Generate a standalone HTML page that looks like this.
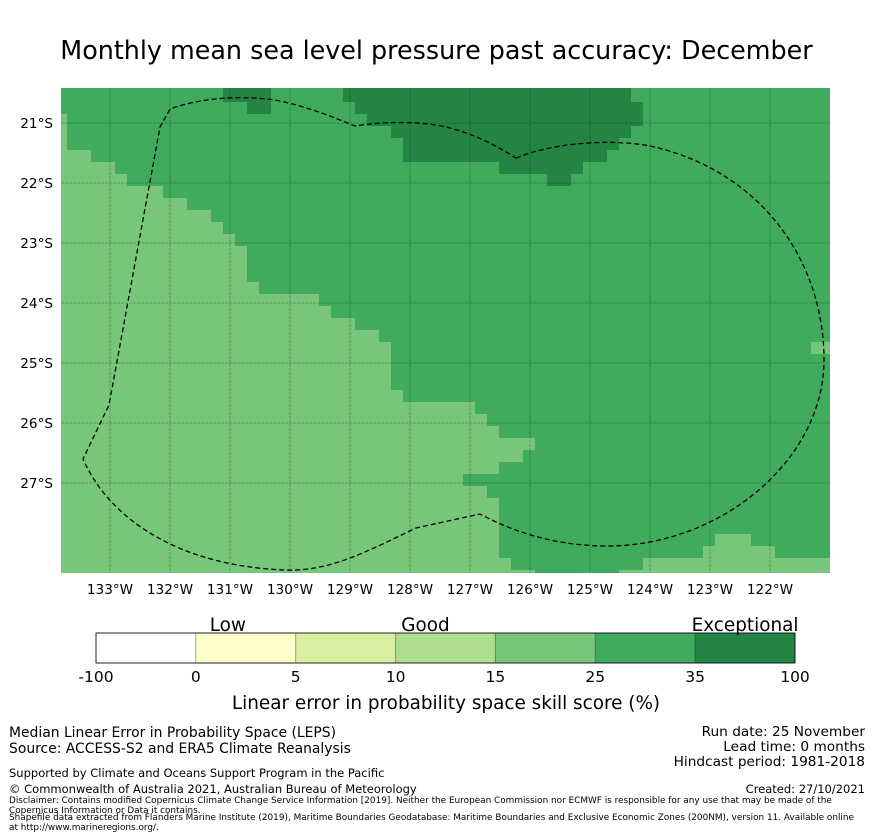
<!DOCTYPE html>
<html><head><meta charset="utf-8"><style>
body{margin:0;background:#fff;width:873px;height:839px;overflow:hidden;font-family:"DejaVu Sans","Liberation Sans",sans-serif;}
.t{position:absolute;white-space:nowrap;color:#000;}
</style></head><body>
<div style="position:relative;width:873px;height:839px">
<div class="t" style="left:0;width:873px;text-align:center;top:35px;font-size:25.4px">Monthly mean sea level pressure past accuracy: December</div>
<svg id="map" width="873" height="600" style="position:absolute;left:0;top:0"></svg>
<svg id="cb" width="873" height="120" style="position:absolute;left:0;top:610"></svg>
<div class="t" style="left:9px;top:725px;font-size:13.9px;line-height:16px">Median Linear Error in Probability Space (LEPS)<br>Source: ACCESS-S2 and ERA5 Climate Reanalysis</div>
<div class="t" style="right:8px;top:725px;font-size:13.7px;line-height:15px;text-align:right">Run date: 25 November<br>Lead time: 0 months<br>Hindcast period: 1981-2018</div>
<div class="t" style="left:9px;top:766px;font-size:11.5px">Supported by Climate and Oceans Support Program in the Pacific</div>
<div class="t" style="left:9px;top:782px;font-size:11.5px">© Commonwealth of Australia 2021, Australian Bureau of Meteorology</div>
<div class="t" style="right:8px;top:782px;font-size:11.5px">Created: 27/10/2021</div>
<div class="t" style="left:9px;top:796px;font-size:8.9px;line-height:10px;white-space:normal;width:855px">Disclaimer: Contains modified Copernicus Climate Change Service Information [2019]. Neither the European Commission nor ECMWF is responsible for any use that may be made of the Copernicus Information or Data it contains.</div>
<div class="t" style="left:9px;top:813px;font-size:8.9px;line-height:10px;white-space:normal;width:855px">Shapefile data extracted from Flanders Marine Institute (2019), Maritime Boundaries Geodatabase: Maritime Boundaries and Exclusive Economic Zones (200NM), version 11. Available online at http://www.marineregions.org/.</div>
</div>
<script>
// grid-cell data (0.2 degree cells): polygons of skill category regions, in cell-edge indices [i, j]
const lightRegion=[[-0.5,0],[0,0],[0,3],[2,3],[2,4],[4,4],[4,5],[5,5],[5,6],[8,6],[8,7],[10,7],[10,8],[12,8],[12,9],[13,9],[13,10],[14,10],[14,11],[15,11],[15,14],[16,14],[16,15],[21,15],[21,16],[22,16],[22,17],[24,17],[24,18],[26,18],[26,19],[27,19],[27,23],[28,23],[28,24],[34,24],[34,25],[35,25],[35,26],[36,26],[36,27],[39,27],[39,28],[38,28],[38,29],[36,29],[36,30],[33,30],[33,31],[35,31],[35,32],[36,32],[36,37],[37,37],[37,38],[39,38],[39,38.25],[-0.5,38.25]];
const lightRegionSE=[[46,38.25],[46,38],[48,38],[48,37],[53,37],[53,36],[54,36],[54,35],[57,35],[57,36],[59,36],[59,37],[63.6,37],[63.6,38.25]];
const lightRegionE=[[62,19],[63.6,19],[63.6,20],[62,20]];
const darkRegionN=[[23,-2.2],[47,-2.2],[47,-1],[48,-1],[48,1],[47,1],[47,2],[46,2],[46,3],[45,3],[45,4],[43,4],[43,5],[42,5],[42,6],[40,6],[40,5],[36,5],[36,4],[28,4],[28,2],[27,2],[27,1],[25,1],[25,0],[24,0],[24,-1],[23,-1]];
const darkRegionNW=[[13,-2.2],[17,-2.2],[17,0],[15,0],[15,-1],[13,-1]];
const lonTicks=[-133,-132,-131,-130,-129,-128,-127,-126,-125,-124,-123,-122];
const latTicks=[-21,-22,-23,-24,-25,-26,-27];
const cbBounds=[-100,0,5,10,15,25,35,100];
const cbColors=['#ffffff','#ffffcc','#d9f0a3','#addd8e','#78c679','#41ab5d','#238443'];
const cbCats=[['Low',1.32],['Good',3.3],['Exceptional',6.5]];

const NS='http://www.w3.org/2000/svg';
const FF='DejaVu Sans, Liberation Sans, sans-serif';
const X0=61,X1=830,Y0=88,Y1=573;
const lonX=l=>110+(l+133)*60;
const latY=l=>123+(-21-l)*60;
const cellLon=i=>-133.7167+0.2*i;
const cellLat=j=>-20.85-0.2*j;
function mk(p,t,a){const e=document.createElementNS(NS,t);for(const k in a)e.setAttribute(k,a[k]);p.appendChild(e);return e;}
const map=document.getElementById('map');
const bg=mk(map,'rect',{x:X0,y:Y0,width:X1-X0,height:Y1-Y0,fill:'#41ab5d'});


function poly(arr,fill,name){
  const pts=arr.map(([i,j])=>Math.min(X1,Math.max(X0,lonX(cellLon(i))))+','+Math.min(Y1,Math.max(Y0,latY(cellLat(j))))).join(' ');
  const e=mk(map,'polygon',{points:pts,fill:fill});
  
  
}
poly(lightRegion,'#78c679','region-good-west');
poly(lightRegionSE,'#78c679','region-good-southeast');
poly(lightRegionE,'#78c679','region-good-east');
poly(darkRegionN,'#238443','region-exceptional-north');
poly(darkRegionNW,'#238443','region-exceptional-northwest');
lonTicks.forEach(l=>{
  const x=lonX(l);
  const g=mk(map,'line',{x1:x,x2:x,y1:Y0,y2:Y1,stroke:'rgba(0,0,0,0.22)','stroke-width':1,'stroke-dasharray':'3,1'});
  
  
  const t=mk(map,'text',{x:x,y:594,'text-anchor':'middle','font-size':13.6,'font-family':FF});
  t.textContent=Math.abs(l)+'°W';
  
  
});
latTicks.forEach(l=>{
  const y=latY(l);
  const g=mk(map,'line',{x1:X0,x2:X1,y1:y,y2:y,stroke:'rgba(0,0,0,0.22)','stroke-width':1,'stroke-dasharray':'3,1'});
  
  
  const t=mk(map,'text',{x:53,y:y+5,'text-anchor':'end','font-size':13.6,'font-family':FF});
  t.textContent=Math.abs(l)+'°S';
  
  
});
const eez=mk(map,'path',{d:'M516,158 C560,140 620,140 650,146 C760,170 824,260 824,360 C824,460 720,548 603,546 C550,545 510,530 480,514 L416,528 C370,550 330,572 285,570 C180,566 110,520 83,459 L109,405 L160,127 L170,109 C200,98 240,95 275,100 C310,107 335,118 355,126 C380,122 420,120 450,128 C480,136 500,148 516,158 Z',fill:'none',stroke:'#000','stroke-width':1.3,'stroke-dasharray':'5,3'});



const cb=document.getElementById('cb');
const CX0=96,CW=699/7,CY=23,CH=30;
cbColors.forEach((c,k)=>{
  const r=mk(cb,'rect',{x:CX0+k*CW,y:CY,width:CW,height:CH,fill:c,stroke:'rgba(0,0,0,0.25)','stroke-width':1});
  
  
});
const ob=mk(cb,'rect',{x:CX0,y:CY,width:699,height:CH,fill:'none',stroke:'#000','stroke-width':0.8});


cbBounds.forEach((b,k)=>{
  const t=mk(cb,'text',{x:CX0+k*CW,y:CY+CH+19,'text-anchor':'middle','font-size':15.5,'font-family':FF});
  t.textContent=b;
  
  
});
cbCats.forEach(([s,p])=>{
  const t=mk(cb,'text',{x:CX0+p*CW,y:CY-2,'text-anchor':'middle','font-size':18.4,'font-family':FF});
  t.textContent=s;
  
  
});
const ct=mk(cb,'text',{x:446,y:99,'text-anchor':'middle','font-size':18.4,'font-family':FF});
ct.textContent='Linear error in probability space skill score (%)';


</script>
</body></html>
